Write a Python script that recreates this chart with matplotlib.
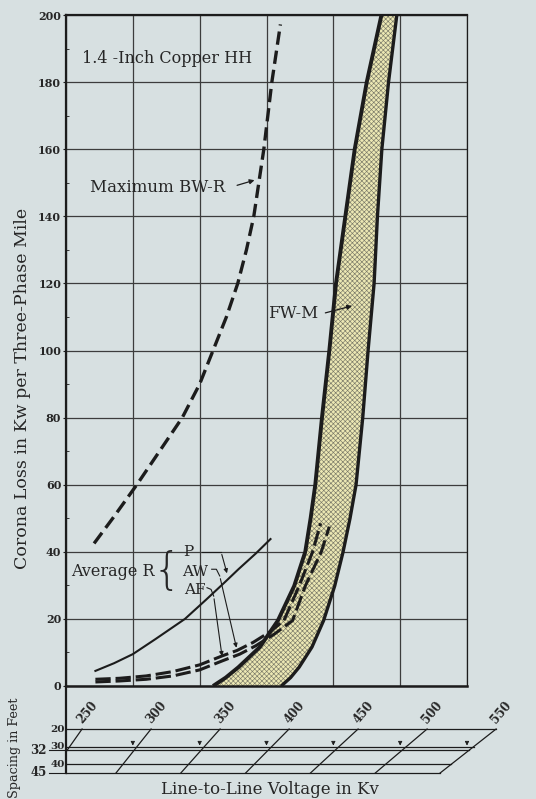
import matplotlib
matplotlib.use("Agg")
import matplotlib.pyplot as plt

# main chart: x is line-to-line voltage (kV) read at 32 ft spacing, y is corona loss
volt_ticks = [250, 300, 350, 400, 450, 500, 550]
loss_ticks = [0, 20, 40, 60, 80, 100, 120, 140, 160, 180, 200]

# Maximum BW-R (dashed)
bw_v = [271, 285, 303, 320, 337, 350, 360, 370, 378.5, 385, 390.5, 398, 404, 410.4]
bw_y = [42.5, 50, 60, 70, 80, 90, 100, 110, 120, 130, 140, 160, 180, 197.2]

# Average R - P (solid)
p_v = [272, 286, 300, 317, 339, 355, 369, 379, 392, 403]
p_y = [4.5, 6.8, 9.5, 14, 20, 25.8, 31, 34.8, 39.5, 43.8]

# Average R - AW and AF (dashed)
aw_v = [272, 290, 310, 330, 350, 367, 378, 390, 402, 413, 424.4, 434.5, 440.5]
aw_y = [2.0, 2.3, 3.0, 4.3, 6.3, 9.0, 10.6, 13.0, 16.0, 19.5, 29.8, 40, 48.5]
af_v = [272, 290, 310, 330, 350, 367, 380, 392, 406, 419.5, 429, 441, 447]
af_y = [1.2, 1.5, 2.0, 3.0, 4.8, 7.5, 9.5, 12.0, 15.5, 19.5, 29.8, 40, 47.5]

# FW-M band boundaries
fwl_v = [360, 369.5, 379, 395, 408.5, 420.7, 429, 433, 436.5, 441.5, 447, 452, 459, 466, 475, 486]
fwl_y = [0, 2.5, 5.6, 11.6, 19.5, 29.8, 40, 50, 60, 80, 100, 120, 140, 160, 180, 200]
fwr_v = [411, 418, 424.4, 434, 442.7, 451, 457.3, 462.5, 467, 472, 476, 480.5, 483, 486.3, 491.3, 497.5]
fwr_y = [0, 2.5, 5.6, 11.6, 19.5, 29.8, 40, 50, 60, 80, 100, 120, 140, 160, 180, 200]

# spacing nomogram
spacings = [20, 30, 32, 40, 45]
spacing_leader = [False, False, True, False, True]
nomo_volts = [250, 300, 350, 400, 450, 500, 550]
pivot_s = 33      # spacing where the slanted lines meet the chart grid
skew_k0 = 1.3     # kV shift per foot at 400 kV
skew_k1 = 0.0025  # growth of that shift per kV

BG = "#d7e0e1"
INK = "#1c1c1c"
TXT = "#262626"
SERIF = "DejaVu Serif"
plt.rcParams["hatch.linewidth"] = 0.45


def skew(v, s):
    return v + (pivot_s - s) * (skew_k0 + skew_k1 * (v - 400))


def main():
    W, H = 536, 799
    fig = plt.figure(figsize=(W / 100, H / 100), dpi=100, facecolor=BG)

    # main plot area: px 66..467 horizontally, 15..686 vertically
    ax = fig.add_axes([66 / W, (H - 686) / H, 401 / W, 671 / H])
    ax.set_facecolor(BG)
    ax.set_xlim(250, 550)
    ax.set_ylim(0, 200)
    ax.set_xticks(volt_ticks)
    ax.set_xticklabels([])
    ax.set_yticks(loss_ticks)
    ax.set_yticklabels([str(t) for t in loss_ticks], fontfamily=SERIF,
                       fontsize=8, fontweight="bold", color=TXT)
    ax.set_yticks(range(10, 200, 20), minor=True)
    ax.tick_params(axis="x", length=0)
    ax.tick_params(axis="y", which="major", length=2, width=0.8, pad=1.5, color=INK)
    ax.tick_params(axis="y", which="minor", length=2, width=0.6, direction="in", color=INK)
    ax.grid(True, which="major", color="#3c3c3c", lw=0.9)
    ax.set_axisbelow(True)
    for side, lw in [("left", 1.6), ("top", 1.6), ("bottom", 1.8), ("right", 0.9)]:
        ax.spines[side].set_linewidth(lw)
        ax.spines[side].set_color(INK)

    # FW-M band
    band_x = fwl_v + fwr_v[::-1]
    band_y = fwl_y + fwr_y[::-1]
    ax.fill(band_x, band_y, facecolor="#ece8b4", edgecolor="#7a7a68",
            hatch="xxxxxxx", linewidth=0, zorder=2)
    ax.plot(fwl_v, fwl_y, color=INK, lw=2.8, zorder=4, solid_capstyle="butt")
    ax.plot(fwr_v, fwr_y, color=INK, lw=2.4, zorder=4, solid_capstyle="butt")

    ax.plot(bw_v, bw_y, color=INK, lw=2.4, dashes=(4, 1.8), zorder=4)
    ax.plot(p_v, p_y, color=INK, lw=1.5, zorder=4)
    ax.plot(aw_v, aw_y, color=INK, lw=2.2, dashes=(5, 1.6), zorder=4)
    ax.plot(af_v, af_y, color=INK, lw=2.2, dashes=(5, 1.6), zorder=4)

    # labels
    txt = dict(fontfamily=SERIF, color=TXT, zorder=5)
    ax.text(262, 187, "1.4 -Inch Copper HH", fontsize=11.5, ha="left", va="center", **txt)
    ax.text(268, 148.5, "Maximum BW-R", fontsize=12, ha="left", va="center", **txt)
    ax.annotate("", xy=(393, 151), xytext=(376, 149),
                arrowprops=dict(arrowstyle="-|>", color=INK, lw=0.9, mutation_scale=7))
    ax.text(439, 111, "FW-M", fontsize=12, ha="right", va="center", **txt)
    ax.annotate("", xy=(466, 113.5), xytext=(442, 111),
                arrowprops=dict(arrowstyle="-|>", color=INK, lw=0.9, mutation_scale=7))

    ax.text(285, 34, "Average R", fontsize=11.5, ha="center", va="center", **txt)
    ax.text(325, 34.2, "{", fontsize=32, ha="center", va="center",
            fontfamily="DejaVu Sans", fontweight="ultralight", color=TXT, zorder=5)
    ax.text(338, 40, "P", fontsize=11, ha="left", va="center", **txt)
    ax.text(336.5, 34, "AW", fontsize=11, ha="left", va="center", **txt)
    ax.text(338, 28.6, "AF", fontsize=11, ha="left", va="center", **txt)

    arr = dict(arrowstyle="-|>", color=INK, lw=0.8, mutation_scale=6)
    ax.plot([352, 366], [40, 40], color=INK, lw=0.8, zorder=5)
    ax.annotate("", xy=(371, 32.8), xytext=(366, 40), arrowprops=arr)
    ax.plot([359, 362.5, 365], [34.8, 34.8, 32.8], color=INK, lw=0.8, zorder=5)
    ax.annotate("", xy=(378, 10.6), xytext=(365, 32.8), arrowprops=arr)
    ax.plot([355.5, 358.5, 360.5], [29.3, 28.8, 26.8], color=INK, lw=0.8, zorder=5)
    ax.annotate("", xy=(367, 8.1), xytext=(360.5, 26.8), arrowprops=arr)

    fig.text(23 / W, 1 - 388 / H, "Corona Loss in Kw per Three-Phase Mile",
             rotation=90, ha="center", va="center", fontfamily=SERIF,
             fontsize=12.5, color=TXT)

    # spacing / voltage nomogram below the chart (px 686..773)
    nx = fig.add_axes([66 / W, (H - 773) / H, 401 / W, 87 / H])
    nx.set_xlim(250, 550)
    top_s = 20 - (729 - 686) / (773 - 729) * (45 - 20)
    nx.set_ylim(45, top_s)
    nx.axis("off")
    nx.patch.set_visible(False)
    nx.plot([250, 250], [45, top_s], color=INK, lw=1.6, clip_on=False)

    for s in spacings:
        nx.plot([250, skew(550, s)], [s, s], color=INK, lw=0.9, clip_on=False)
    for v in nomo_volts:
        s_end = 45
        if skew(v, 45) < 250:
            s_end = pivot_s - (250 - v) / (skew_k0 + skew_k1 * (v - 400))
        nx.plot([skew(v, 20), skew(v, s_end)], [20, s_end], color=INK, lw=0.9,
                clip_on=False)
        nx.text(skew(v, 20) + 2, 18.5, str(v), rotation=50, rotation_mode="anchor",
                ha="left", va="bottom", fontfamily=SERIF, fontsize=8.5,
                fontweight="bold", color=TXT, clip_on=False)
    for v in nomo_volts[1:]:
        nx.annotate("", xy=(v, 31), xytext=(v, 26.5),
                    arrowprops=dict(arrowstyle="-|>", color=INK, lw=0.6,
                                    mutation_scale=6), annotation_clip=False)

    for s, lead in zip(spacings, spacing_leader):
        if lead:
            nx.plot([237, 250], [s, s], color=INK, lw=0.8, clip_on=False)
            nx.text(235.5, s, str(s), ha="right", va="center", fontfamily=SERIF,
                    fontsize=8.5, fontweight="bold", color=TXT, clip_on=False)
        else:
            nx.text(249, s, str(s), ha="right", va="center", fontfamily=SERIF,
                    fontsize=7.5, fontweight="bold", color=TXT, clip_on=False)

    fig.text(15 / W, 1 - 748 / H, "Spacing in Feet", rotation=90, ha="center",
             va="center", fontfamily=SERIF, fontsize=9.2, color=TXT)
    fig.text(270 / W, 1 - 789 / H, "Line-to-Line Voltage in Kv", ha="center",
             va="center", fontfamily=SERIF, fontsize=12, color=TXT)

    fig.savefig("out.png", dpi=100, facecolor=BG)


if __name__ == "__main__":
    main()
